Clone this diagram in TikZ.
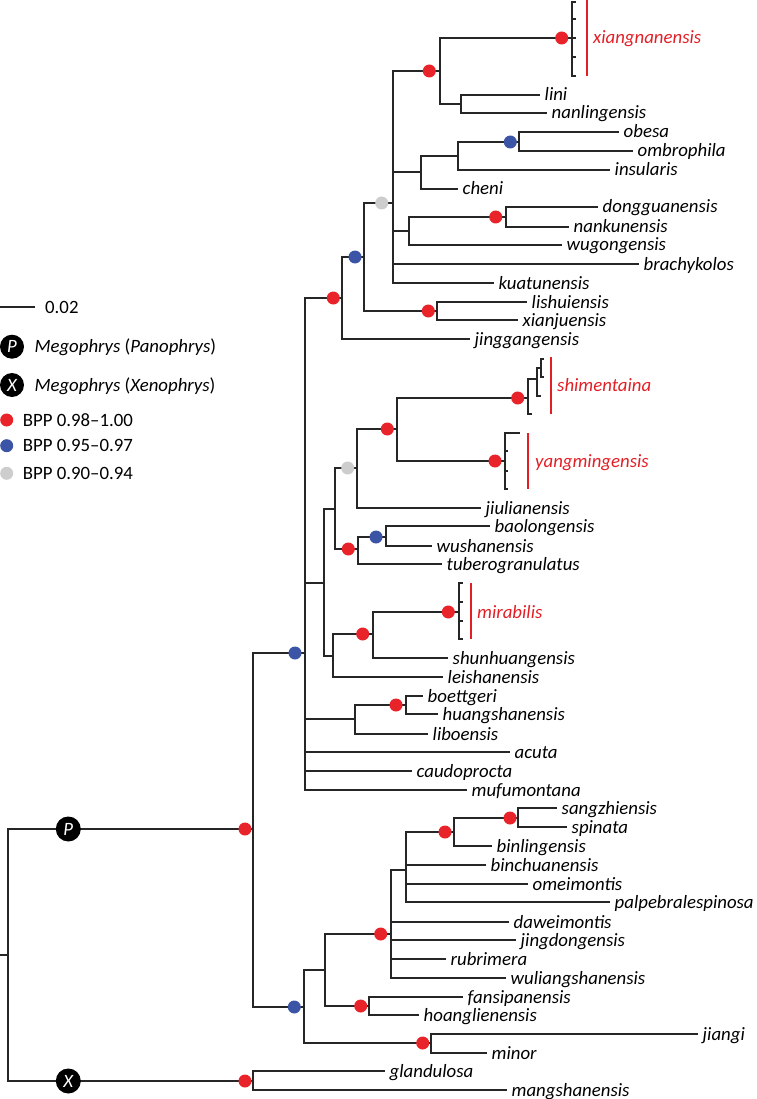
\documentclass[tikz,border=0pt]{standalone}
\usepackage{fontspec}
\setmainfont{Carlito}
\definecolor{bred}{HTML}{E8232A}
\definecolor{bblue}{HTML}{3B54A5}
\definecolor{bgray}{HTML}{CDCDCD}
\definecolor{lred}{HTML}{E31F26}
\begin{document}
\begin{tikzpicture}[x=1pt,y=-1pt,
  br/.style={draw=black!85,line width=1.5pt},
  redbar/.style={draw=lred,line width=2pt},
  lab/.style={anchor=west,inner sep=0pt,xshift=4.5pt,text height=12pt,text depth=0pt,font=\fontsize{18.8}{20}\selectfont\itshape},
  rlab/.style={anchor=west,inner sep=0pt,text height=12pt,text depth=0pt,text=lred,font=\fontsize{18.8}{20}\selectfont\itshape},
  leg/.style={anchor=west,inner sep=0pt,text height=12pt,text depth=0pt,font=\fontsize{18.8}{20}\selectfont},
  dot/.style={circle,inner sep=0pt,minimum size=13pt},
  rd/.style={dot,fill=bred},
  bd/.style={dot,fill=bblue},
  gd/.style={dot,fill=bgray},
  big/.style={circle,fill=black,inner sep=0pt,minimum size=25pt,text=white,text height=12pt,text depth=0pt,font=\fontsize{18.8}{20}\selectfont\itshape}]
\useasboundingbox (0,0) rectangle (756,1099);

% ---------- internal nodes ----------
\coordinate (R) at (8,955);
\coordinate (NP) at (253,829);
\coordinate (NX) at (253,1081);
\coordinate (A) at (305,653);
\coordinate (B) at (304,1007);
\coordinate (C) at (342,298);
\coordinate (F) at (364,257);
\coordinate (G) at (393,203);
\coordinate (H) at (437,311);
\coordinate (I) at (440,71);
\coordinate (L) at (572,38);
\coordinate (M) at (461,104);
\coordinate (J) at (421,172);
\coordinate (N) at (458,156);
\coordinate (O) at (519,142);
\coordinate (K) at (409,231);
\coordinate (Q) at (506,217);
\coordinate (D) at (324,583);
\coordinate (S) at (335,509);
\coordinate (U) at (357,468);
\coordinate (W) at (397,429);
\coordinate (X1) at (528,398);
\coordinate (X2) at (537,379);
\coordinate (X3) at (541,368);
\coordinate (Y1) at (505,461);
\coordinate (V) at (358,549);
\coordinate (Z) at (386,537);
\coordinate (T) at (333,656);
\coordinate (T2) at (373,634);
\coordinate (M1) at (459,612);
\coordinate (E) at (355,719);
\coordinate (E2) at (406,705);
\coordinate (B1) at (325,970);
\coordinate (B2) at (431,1043);
\coordinate (B3) at (391,934);
\coordinate (B4) at (369,1006);
\coordinate (B5) at (406,870);
\coordinate (B6) at (454,832);
\coordinate (B7) at (518,818);

% ---------- tips ----------
\foreach \n/\x/\y in {
  lini/540/95, nanlingensis/547/113, obesa/619/132, ombrophila/633/151,
  insularis/610/170, cheni/458/189, dongguanensis/598/207, nankunensis/569/227,
  wugongensis/562/245, brachykolos/639/264, kuatunensis/494/283,
  lishuiensis/527/302, xianjuensis/518/320, jinggangensis/470/339,
  jiulianensis/481/508, baolongensis/490/526, wushanensis/432/546,
  tuberogranulatus/442/564, shunhuangensis/448/658, leishanensis/443/677,
  boettgeri/423/696, huangshanensis/438/714, liboensis/428/734,
  acuta/510/752, caudoprocta/412/771, mufumontana/467/790,
  sangzhiensis/557/808, spinata/567/827, binlingensis/492/846,
  binchuanensis/486/865, omeimontis/528/884, palpebralespinosa/610/902,
  daweimontis/509/922, jingdongensis/516/940, rubrimera/446/959,
  wuliangshanensis/506/978, fansipanensis/463/997, hoanglienensis/419/1015,
  jiangi/698/1034, minor/487/1053, glandulosa/385/1071, mangshanensis/507/1090}
  {\coordinate (\n) at (\x,\y); \node[lab] (\n-l) at (\n) {\n};}

% comb tips of the collapsed clades
\foreach \i/\y in {1/2,2/19,3/38,4/57,5/76} {\coordinate (xa\i) at (576,\y);}
\coordinate (s1) at (532,414);
\coordinate (s2) at (541,396);
\coordinate (s3) at (544,359);
\coordinate (s4) at (544,377);
\coordinate (y1) at (520,433);
\coordinate (y2) at (508,451);
\coordinate (y3) at (508,471);
\coordinate (y4) at (508,489);
\foreach \i/\y in {1/583,2/602,3/621,4/639} {\coordinate (mi\i) at (463,\y);}

% ---------- branches (one path, so overlapping segments are stroked once) ----------
\coordinate (root0) at (0,955);
\draw[br] (root0) -- (R)
  foreach \p/\c in {R/NP, R/NX, NP/A, NP/B,
  A/C, A/D, A/E, A/acuta, A/caudoprocta, A/mufumontana,
  C/F, C/jinggangensis, F/G, F/H,
  G/I, G/J, G/K, G/brachykolos, G/kuatunensis,
  I/L, I/M, L/xa1, L/xa2, L/xa3, L/xa4, L/xa5,
  M/lini, M/nanlingensis, J/N, J/cheni, N/O, N/insularis,
  O/obesa, O/ombrophila, K/Q, K/wugongensis,
  Q/dongguanensis, Q/nankunensis, H/lishuiensis, H/xianjuensis,
  D/S, D/T, S/U, S/V, U/W, U/jiulianensis, W/X1, W/Y1,
  X1/X2, X1/s1, X2/X3, X2/s2, X3/s3, X3/s4,
  Y1/y1, Y1/y2, Y1/y3, Y1/y4,
  V/Z, V/tuberogranulatus, Z/baolongensis, Z/wushanensis,
  T/T2, T/leishanensis, T2/M1, T2/shunhuangensis,
  M1/mi1, M1/mi2, M1/mi3, M1/mi4,
  E/E2, E/liboensis, E2/boettgeri, E2/huangshanensis,
  B/B1, B/B2, B2/jiangi, B2/minor, B1/B3, B1/B4,
  B4/fansipanensis, B4/hoanglienensis,
  B3/B5, B3/daweimontis, B3/jingdongensis, B3/rubrimera, B3/wuliangshanensis,
  B5/B6, B5/binchuanensis, B5/omeimontis, B5/palpebralespinosa,
  B6/B7, B6/binlingensis, B7/sangzhiensis, B7/spinata,
  NX/glandulosa, NX/mangshanensis}
  {(\p) |- (\c)};

% ---------- red clade bars and labels ----------
\draw[redbar] (587,0) -- (587,76);
\node[rlab] (xiang) at (593,38) {xiangnanensis};
\draw[redbar] (551,357) -- (551,414);
\node[rlab] (shim) at (557,385) {shimentaina};
\draw[redbar] (528,433) -- (528,489);
\node[rlab] (yang) at (535,461) {yangmingensis};
\draw[redbar] (471,583) -- (471,639);
\node[rlab] (mira) at (477,612) {mirabilis};

% ---------- support dots ----------
\foreach \x/\y [count=\k] in {429.3/71, 561.7/38, 333.3/298, 428.3/311, 495.7/217,
  517.7/398, 495/461, 387.3/429, 348.3/549, 448.3/612, 362.7/634, 396/705,
  245/829, 445/832, 510/818, 380.7/934, 360.7/1006, 422.7/1043, 245/1081}
  {\node[rd] (r\k) at (\x,\y) {};}
\foreach \x/\y [count=\k] in {510.3/142, 355/257, 376/537, 295/653, 294.3/1007}
  {\node[bd] (b\k) at (\x,\y) {};}
\foreach \x/\y [count=\k] in {381.7/203, 347.7/468}
  {\node[gd] (g\k) at (\x,\y) {};}

% ---------- subgenus markers ----------
\node[big] (Pm) at (68.3,829) {P};
\node[big] (Xm) at (68.3,1081) {X};

% ---------- legend ----------
\coordinate (sb0) at (0,307);
\coordinate (sb1) at (35,307);
\draw[br] (sb0) -- (sb1);
\node[leg] (sbl) at (45,307.3) {0.02};
\node[big,minimum size=24pt] (lP) at (12,346.7) {P};
\node[leg] (lPt) at (34.3,346.7) {\textit{Megophrys} (\textit{Panophrys})};
\node[big,minimum size=24pt] (lX) at (12,385) {X};
\node[leg] (lXt) at (34.3,385) {\textit{Megophrys} (\textit{Xenophrys})};
\node[rd] (lr) at (6.7,420) {};
\node[leg] (lrt) at (22.7,420) {BPP 0.98–1.00};
\node[bd] (lb) at (6.7,445.7) {};
\node[leg] (lbt) at (22.7,445.7) {BPP 0.95–0.97};
\node[gd] (lg) at (6.7,473.3) {};
\node[leg] (lgt) at (22.7,473.3) {BPP 0.90–0.94};
\end{tikzpicture}
\end{document}
